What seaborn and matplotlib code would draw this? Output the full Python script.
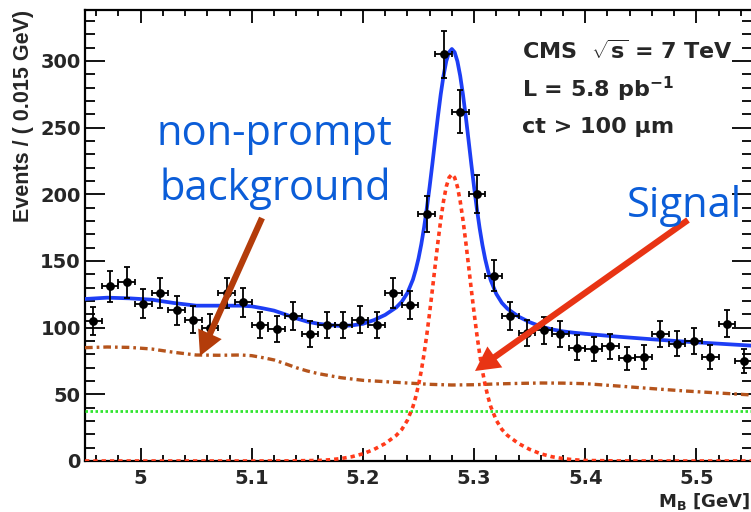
import numpy as np
import matplotlib
matplotlib.use("Agg")
import matplotlib.pyplot as plt
from matplotlib.ticker import MultipleLocator, FixedLocator
import seaborn as sns

# ---------------- data ----------------
bin_low = 4.95
bin_width = 0.015
counts = [105, 131, 134, 118, 126, 113, 106, 100, 126, 119,
          102, 99, 109, 95, 102, 102, 106, 102, 126, 117,
          185, 305, 262, 200, 139, 109, 96, 98, 95, 85,
          84, 86, 77, 78, 95, 88, 90, 78, 103, 75]

sig_x = [4.95, 5.05, 5.10, 5.13, 5.16, 5.17, 5.18, 5.19, 5.20, 5.21, 5.22, 5.23,
         5.235, 5.24, 5.245, 5.2475, 5.25, 5.2525, 5.255, 5.2575, 5.26, 5.2625,
         5.265, 5.2675, 5.27, 5.2725, 5.275, 5.2775, 5.28, 5.2825, 5.285, 5.2875,
         5.29, 5.2925, 5.295, 5.2975, 5.30, 5.3025, 5.305, 5.3075, 5.31, 5.3125,
         5.315, 5.32, 5.325, 5.33, 5.34, 5.35, 5.36, 5.37, 5.38, 5.39, 5.40,
         5.43, 5.46, 5.55]
sig_y = [0, 0, 0, 0.05, 0.4, 0.9, 1.8, 3.2, 5.4, 8.7, 13.1, 19.2,
         23.7, 30.5, 40.8, 48.1, 56.9, 67.6, 80.3, 94.9, 111.2, 128.6,
         146.7, 164.4, 180.8, 194.9, 205.8, 212.6, 215.0, 212.6, 205.8, 194.9,
         180.8, 164.4, 146.7, 128.6, 111.2, 94.9, 80.3, 67.6, 56.9, 48.1,
         40.8, 30.5, 23.7, 19.2, 13.1, 8.7, 5.4, 3.2, 1.8, 0.9, 0.4,
         0.05, 0, 0]

nonprompt_x = [4.95, 4.97, 4.99, 5.01, 5.03, 5.05, 5.07, 5.09, 5.10, 5.11, 5.12,
               5.13, 5.14, 5.15, 5.16, 5.17, 5.18, 5.19, 5.20, 5.22, 5.24, 5.26,
               5.28, 5.30, 5.32, 5.34, 5.36, 5.38, 5.40, 5.43, 5.46, 5.49, 5.52, 5.55]
nonprompt_y = [85, 85.5, 85.2, 84, 81.5, 79.5, 79.3, 79.5, 79, 77.5, 75.8,
               73, 70, 67.5, 65.5, 64, 62.5, 61.5, 60.5, 59.5, 58.5, 57.5,
               57, 57.2, 57.8, 58.2, 58.5, 58.4, 58, 56.2, 54.3, 52.5, 51, 49.5]

comb_x = [4.95, 5.55]
comb_y = [37.3, 37.3]

total_x = [4.95, 4.97, 4.99, 5.01, 5.03, 5.05, 5.07, 5.09, 5.10, 5.11, 5.12, 5.13,
           5.14, 5.15, 5.16, 5.17, 5.18, 5.19, 5.20, 5.21, 5.22, 5.23, 5.235, 5.24,
           5.245, 5.2475, 5.25, 5.2525, 5.255, 5.2575, 5.26, 5.2625, 5.265, 5.2675,
           5.27, 5.2725, 5.275, 5.2775, 5.28, 5.2825, 5.285, 5.2875, 5.29, 5.2925,
           5.295, 5.2975, 5.30, 5.3025, 5.305, 5.3075, 5.31, 5.3125, 5.315, 5.32,
           5.325, 5.33, 5.34, 5.35, 5.36, 5.37, 5.38, 5.39, 5.40, 5.43, 5.46, 5.49,
           5.52, 5.55]
total_y = [121.5, 122.5, 122, 121, 118.5, 116.5, 116.5, 116.5, 116, 114.5, 112.8, 110,
           107, 104.5, 102.9, 101.9, 101.3, 101.7, 102.9, 105.7, 109.6, 115.2, 119.5, 126,
           136.1, 143.3, 151.9, 162.5, 175.1, 189.6, 205.7, 223, 241, 258.6,
           275, 289, 299.9, 306.6, 309, 306.6, 299.8, 288.9, 274.8, 258.5,
           240.8, 222.7, 205.4, 189.2, 174.6, 162, 151.4, 142.7, 135.5, 125.3,
           118.6, 114.2, 108.3, 104.1, 100.9, 98.7, 97.2, 96.2, 95.4, 93.2, 91.3, 89.5,
           88, 86.5]

x_ticks = [5.0, 5.1, 5.2, 5.3, 5.4, 5.5]
x_tick_labels = ["5", "5.1", "5.2", "5.3", "5.4", "5.5"]
y_ticks = [0, 50, 100, 150, 200, 250, 300]
y_tick_labels = ["0", "50", "100", "150", "200", "250", "300"]

# ---------------- style ----------------
sns.set_theme(style="ticks")
plt.rcParams["font.family"] = ["DejaVu Sans"]
plt.rcParams["mathtext.fontset"] = "custom"
plt.rcParams["mathtext.rm"] = "DejaVu Sans:bold"
plt.rcParams["mathtext.bf"] = "DejaVu Sans:bold"
plt.rcParams["mathtext.it"] = "DejaVu Sans:bold"

W, H = 751, 512
fig = plt.figure(figsize=(W / 100, H / 100), dpi=100)
ax = fig.add_axes([85 / W, 51 / H, 667 / W, 451 / H])
ax.set_facecolor("white")

centers = bin_low + bin_width * (np.arange(len(counts)) + 0.5)
cnt = np.array(counts, dtype=float)

# data points with error bars
ax.errorbar(centers, cnt, xerr=bin_width / 2, yerr=np.sqrt(cnt), fmt="none",
            ecolor="black", elinewidth=1.3, capsize=2.4, capthick=1.3, zorder=4)
sns.scatterplot(x=centers, y=cnt, ax=ax, color="black", s=40, edgecolor="black",
                linewidth=0, zorder=5, legend=False)

# curves
sns.lineplot(x=comb_x, y=comb_y, ax=ax, color="#2ee62e", linewidth=2.0,
             linestyle=(0, (0.9, 0.9)), errorbar=None, sort=False, zorder=3)
sns.lineplot(x=nonprompt_x, y=nonprompt_y, ax=ax, color="#b5541c", linewidth=2.4,
             linestyle=(0, (2.3, 1.2, 0.8, 1.2)), errorbar=None, sort=False, zorder=3)
sns.lineplot(x=sig_x, y=sig_y, ax=ax, color="#ff3a1a", linewidth=2.6,
             linestyle=(0, (1.2, 1.1)), errorbar=None, sort=False, zorder=3)
sns.lineplot(x=total_x, y=total_y, ax=ax, color="#1d3ef5", linewidth=2.7,
             errorbar=None, sort=False, zorder=3.5)

# axes
ax.set_xlim(4.95, 5.55)
ax.set_ylim(0, 338.25)
ax.xaxis.set_major_locator(FixedLocator(x_ticks))
ax.set_xticklabels(x_tick_labels)
ax.yaxis.set_major_locator(FixedLocator(y_ticks))
ax.set_yticklabels(y_tick_labels)
ax.xaxis.set_minor_locator(MultipleLocator(0.02))
ax.yaxis.set_minor_locator(MultipleLocator(10))
ax.tick_params(which="both", direction="in", top=True, right=True,
               width=1.3, color="black")
ax.tick_params(axis="x", which="major", length=9.7, pad=6, labelsize=14)
ax.tick_params(axis="x", which="minor", length=4.3)
ax.tick_params(axis="y", which="major", length=14.4, pad=3, labelsize=14)
ax.tick_params(axis="y", which="minor", length=7.2)
for lab in ax.get_xticklabels() + ax.get_yticklabels():
    lab.set_fontweight("bold")
    lab.set_fontfamily("DejaVu Sans")
for sp in ax.spines.values():
    sp.set_linewidth(1.6)
    sp.set_color("black")
ax.set_xlabel("")
ax.set_ylabel("")

# axis titles
fig.text(24 / W, 1 - 10 / H, "Events / ( 0.015 GeV)", rotation=90, ha="center",
         va="top", fontfamily="Liberation Sans", fontweight="bold", fontsize=15.5)
fig.text(750 / W, 1 - 507 / H, r"M$_{\mathrm{B}}$ [GeV]", ha="right", va="baseline",
         fontfamily="DejaVu Sans", fontweight="bold", fontsize=13)

# CMS labels
fig.text(521.7 / W, 1 - 59.3 / H, r"CMS  $\sqrt{\mathrm{s}}$ = 7 TeV", ha="left",
         va="baseline", fontweight="bold", fontsize=16)
fig.text(522 / W, 1 - 97.3 / H, r"L = 5.8 pb$^{\mathrm{-1}}$", ha="left",
         va="baseline", fontweight="bold", fontsize=16)
fig.text(521.7 / W, 1 - 133.3 / H, "ct > 100 μm", ha="left",
         va="baseline", fontweight="bold", fontsize=16)

# annotations
blue_txt = "#0b5dd8"
fig.text(274 / W, 1 - 145 / H, "non-prompt", ha="center", va="baseline",
         fontfamily="Open Sans", fontsize=30, color=blue_txt)
fig.text(275 / W, 1 - 200 / H, "background", ha="center", va="baseline",
         fontfamily="Open Sans", fontsize=30, color=blue_txt)
fig.text(684 / W, 1 - 217 / H, "Signal", ha="center", va="baseline",
         fontfamily="Open Sans", fontsize=30, color=blue_txt)

arrow_style = "simple,head_length=1.75,head_width=1.85,tail_width=0.45"
ax.annotate("", xy=(200 / W, 1 - 356 / H), xytext=(262 / W, 1 - 218 / H),
            xycoords="figure fraction", textcoords="figure fraction",
            arrowprops=dict(arrowstyle=arrow_style, mutation_scale=10,
                            color="#b33c0a", lw=0, shrinkA=0, shrinkB=0),
            zorder=10, annotation_clip=False)
ax.annotate("", xy=(475 / W, 1 - 371 / H), xytext=(688 / W, 1 - 220 / H),
            xycoords="figure fraction", textcoords="figure fraction",
            arrowprops=dict(arrowstyle=arrow_style, mutation_scale=10,
                            color="#e83414", lw=0, shrinkA=0, shrinkB=0),
            zorder=10, annotation_clip=False)

fig.savefig("out.png", dpi=100, facecolor="white")
